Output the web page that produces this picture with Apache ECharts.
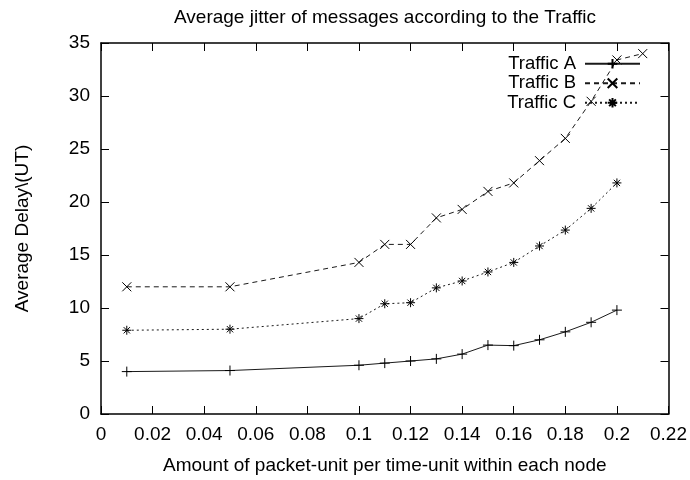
<!DOCTYPE html>
<html>
<head>
<meta charset="utf-8">
<script src="https://cdn.jsdelivr.net/npm/echarts@6/dist/echarts.min.js"></script>
<style>html,body{margin:0;padding:0;background:#fff}#c{width:690px;height:480px}</style>
</head>
<body>
<div id="c"></div>
<script>
var xA = [0.01, 0.05, 0.1, 0.11, 0.12, 0.13, 0.14, 0.15, 0.16, 0.17, 0.18, 0.19, 0.2];
var trafficA = [4.0, 4.1, 4.6, 4.8, 5.0, 5.2, 5.65, 6.5, 6.45, 7.0, 7.75, 8.65, 9.8];
var xB = [0.01, 0.05, 0.1, 0.11, 0.12, 0.13, 0.14, 0.15, 0.16, 0.17, 0.18, 0.19, 0.2, 0.21];
var trafficB = [12.0, 12.0, 14.3, 16.0, 16.0, 18.5, 19.3, 21.0, 21.8, 23.9, 26.0, 29.5, 33.4, 34.0];
var xC = [0.01, 0.05, 0.1, 0.11, 0.12, 0.13, 0.14, 0.15, 0.16, 0.17, 0.18, 0.19, 0.2];
var trafficC = [7.9, 8.0, 9.0, 10.4, 10.5, 11.9, 12.55, 13.4, 14.3, 15.85, 17.35, 19.4, 21.8];
var seriesNames = ['Traffic A', 'Traffic B', 'Traffic C'];
var xTickLabels = ['0','0.02','0.04','0.06','0.08','0.1','0.12','0.14','0.16','0.18','0.2','0.22'];
var yTickLabels = ['0','5','10','15','20','25','30','35'];

function pairs(xs, ys){ return xs.map(function(x,i){ return [x, ys[i]]; }); }

var FONT = 'Liberation Sans, Arial, Helvetica, sans-serif';
var plusSym = 'path://M0,5L10,5M5,0L5,10';
var crossSym = 'path://M0,0L10,10M10,0L0,10';
var starSym = 'path://M0,5L10,5M5,0L5,10M1.5,1.5L8.5,8.5M8.5,1.5L1.5,8.5';

function mk(name, data, sym, size, dash){
  return {
    name: name, type: 'line', data: data,
    symbol: sym, symbolSize: size, showSymbol: true,
    lineStyle: {color: '#1a1a1a', width: 1, type: dash},
    itemStyle: {color: '#000', borderColor: '#000', borderWidth: 1},
    emphasis: {disabled: true},
    animation: false, z: 3
  };
}

var axisCommon = {
  axisLine: {show: true, onZero: false, lineStyle: {color: '#000', width: 1.5}},
  axisTick: {show: true, inside: true, length: 8, lineStyle: {color: '#000', width: 1}},
  splitLine: {show: false}
};

var chart = echarts.init(document.getElementById('c'), null, {renderer: 'canvas'});
chart.setOption({
  backgroundColor: '#fff',
  animation: false,
  title: {
    text: 'Average jitter of messages according to the Traffic',
    left: 169, top: 3,
    textStyle: {fontFamily: FONT, fontSize: 19, fontWeight: 'normal', color: '#000'}
  },
  legend: {
    orient: 'vertical', right: 44, top: 49, align: 'right',
    itemWidth: 55, itemHeight: 12, itemGap: 0,
    data: seriesNames,
    textStyle: {fontFamily: FONT, fontSize: 18.5, lineHeight: 19.5, color: '#000', padding: [0, 4, 0, 0]},
    selectedMode: false
  },
  grid: {left: 101, right: 19, top: 43, bottom: 64, containLabel: false},
  xAxis: [
    Object.assign({
      type: 'value', min: 0, max: 0.22, interval: 0.02, position: 'bottom',
      name: 'Amount of packet-unit per time-unit within each node',
      nameLocation: 'middle', nameGap: 42,
      nameTextStyle: {fontFamily: FONT, fontSize: 19, color: '#000'},
      axisLabel: {margin: 11, fontFamily: FONT, fontSize: 19, color: '#000',
        formatter: function(v){ return xTickLabels[Math.round(v / 0.02)]; }}
    }, axisCommon),
    Object.assign({
      type: 'value', min: 0, max: 0.22, interval: 0.02, position: 'top',
      axisLabel: {show: false}
    }, axisCommon)
  ],
  yAxis: [
    Object.assign({
      type: 'value', min: 0, max: 35, interval: 5, position: 'left',
      name: 'Average Delay\\(UT)',
      nameLocation: 'middle', nameGap: 69,
      nameTextStyle: {fontFamily: FONT, fontSize: 19, color: '#000'},
      axisLabel: {margin: 11, fontFamily: FONT, fontSize: 19, color: '#000',
        formatter: function(v){ return yTickLabels[Math.round(v / 5)]; }}
    }, axisCommon),
    Object.assign({
      type: 'value', min: 0, max: 35, interval: 5, position: 'right',
      axisLabel: {show: false}
    }, axisCommon)
  ],
  series: [
    mk(seriesNames[0], pairs(xA, trafficA), plusSym, 10, 'solid'),
    mk(seriesNames[1], pairs(xB, trafficB), crossSym, 9, [5, 4]),
    mk(seriesNames[2], pairs(xC, trafficC), starSym, 9, [2, 3])
  ]
});
</script>
</body>
</html>
